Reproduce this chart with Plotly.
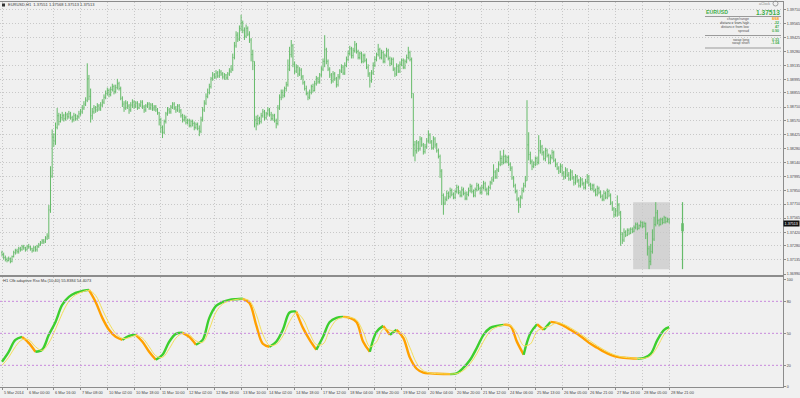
import plotly.graph_objects as go

# ---------------- data ----------------
symbol_title = "EURUSD,H1  1.37551 1.37568 1.37513 1.37513"
indicator_title = "H1 Cfb adaptive Rsx Ma (10,40) 55.8384 54.4073"

open0 = 1.3721
close = [
1.3719,1.3716,1.3714,1.3713,1.3715,1.3712,1.3717,1.3721,1.3723,1.3722,
1.3725,1.3724,1.3727,1.3726,1.3724,1.3727,1.3727,1.3725,1.3723,1.3726,
1.3724,1.3727,1.3729,1.3731,1.3733,1.3732,1.3736,1.3738,1.3765,1.3800,
1.3840,1.3836,1.3850,1.3862,1.3856,1.3860,1.3862,1.3859,1.3863,1.3861,
1.3864,1.3860,1.3858,1.3862,1.3859,1.3861,1.3864,1.3866,1.3870,1.3874,
1.3878,1.3900,1.3882,1.3862,1.3866,1.3870,1.3868,1.3872,1.3869,1.3873,
1.3876,1.3881,1.3885,1.3888,1.3884,1.3889,1.3892,1.3887,1.3891,1.3895,
1.3890,1.3880,1.3874,1.3870,1.3875,1.3872,1.3868,1.3873,1.3876,1.3872,
1.3875,1.3870,1.3873,1.3876,1.3871,1.3868,1.3872,1.3874,1.3870,1.3873,
1.3869,1.3871,1.3868,1.3865,1.3858,1.3850,1.3845,1.3856,1.3864,1.3868,
1.3866,1.3871,1.3874,1.3870,1.3868,1.3872,1.3867,1.3862,1.3858,1.3860,
1.3855,1.3857,1.3852,1.3856,1.3854,1.3850,1.3853,1.3849,1.3846,1.3858,
1.3868,1.3875,1.3882,1.3886,1.3892,1.3900,1.3904,1.3902,1.3906,1.3903,
1.3907,1.3905,1.3902,1.3904,1.3901,1.3905,1.3908,1.3910,1.3922,1.3934,
1.3945,1.3941,1.3952,1.3958,1.3950,1.3944,1.3952,1.3946,1.3940,1.3925,
1.3918,1.3858,1.3854,1.3859,1.3856,1.3862,1.3866,1.3860,1.3864,1.3868,
1.3863,1.3859,1.3862,1.3857,1.3854,1.3870,1.3881,1.3886,1.3883,1.3890,
1.3894,1.3910,1.3925,1.3934,1.3915,1.3908,1.3912,1.3905,1.3909,1.3902,
1.3896,1.3890,1.3885,1.3881,1.3886,1.3892,1.3888,1.3895,1.3900,1.3897,
1.3904,1.3910,1.3918,1.3930,1.3918,1.3910,1.3904,1.3898,1.3905,1.3900,
1.3894,1.3902,1.3908,1.3912,1.3906,1.3914,1.3920,1.3926,1.3931,1.3924,
1.3929,1.3935,1.3928,1.3922,1.3926,1.3918,1.3924,1.3919,1.3912,1.3905,
1.3898,1.3906,1.3914,1.3920,1.3925,1.3930,1.3922,1.3927,1.3918,1.3924,
1.3929,1.3921,1.3916,1.3920,1.3910,1.3905,1.3913,1.3908,1.3915,1.3919,
1.3912,1.3918,1.3922,1.3927,1.3920,1.3885,1.3832,1.3826,1.3834,1.3828,
1.3838,1.3832,1.3825,1.3830,1.3836,1.3842,1.3835,1.3829,1.3838,1.3832,
1.3826,1.3820,1.3805,1.3780,1.3772,1.3776,1.3782,1.3779,1.3785,1.3781,
1.3778,1.3784,1.3788,1.3783,1.3780,1.3786,1.3782,1.3777,1.3781,1.3785,
1.3789,1.3784,1.3780,1.3786,1.3790,1.3787,1.3783,1.3788,1.3792,1.3786,
1.3782,1.3788,1.3793,1.3796,1.3804,1.3799,1.3806,1.3812,1.3818,1.3814,
1.3820,1.3815,1.3819,1.3812,1.3808,1.3798,1.3790,1.3784,1.3776,1.3770,
1.3778,1.3785,1.3790,1.3795,1.3832,1.3822,1.3815,1.3810,1.3812,1.3818,
1.3814,1.3826,1.3830,1.3824,1.3818,1.3826,1.3821,1.3814,1.3819,1.3824,
1.3816,1.3812,1.3808,1.3805,1.3810,1.3803,1.3799,1.3806,1.3801,1.3797,
1.3804,1.3798,1.3793,1.3799,1.3795,1.3790,1.3796,1.3792,1.3788,1.3794,
1.3799,1.3791,1.3787,1.3790,1.3785,1.3781,1.3787,1.3783,1.3779,1.3776,
1.3782,1.3778,1.3784,1.3780,1.3772,1.3766,1.3760,1.3764,1.3770,1.3762,
1.3740,1.3734,1.3742,1.3739,1.3744,1.3741,1.3745,1.3743,1.3747,1.3750,
1.3746,1.3749,1.3752,1.3748,1.3751,1.3740,1.3725,1.3712,1.3722,1.3735,
1.3750,1.3762,1.3754,1.3750,1.3755,1.3752,1.3757,1.3753,1.37551,1.37513]

high = [
1.3723,1.3721,1.3718,1.3716,1.3717,1.3716,1.3718,1.3723,1.3725,1.3725,
1.3727,1.3727,1.3729,1.3729,1.3727,1.3729,1.3730,1.3728,1.3726,1.3728,
1.3728,1.3729,1.3731,1.3733,1.3735,1.3735,1.3738,1.3741,1.3770,1.3810,
1.3848,1.3844,1.3855,1.3870,1.3865,1.3864,1.3866,1.3864,1.3866,1.3865,
1.3867,1.3866,1.3862,1.3865,1.3864,1.3863,1.3867,1.3869,1.3873,1.3877,
1.3881,1.3916,1.3904,1.3890,1.3870,1.3873,1.3872,1.3875,1.3874,1.3876,
1.3879,1.3884,1.3888,1.3891,1.3890,1.3892,1.3895,1.3894,1.3894,1.3900,
1.3897,1.3892,1.3882,1.3877,1.3878,1.3877,1.3874,1.3876,1.3879,1.3878,
1.3877,1.3877,1.3875,1.3878,1.3878,1.3873,1.3874,1.3876,1.3876,1.3875,
1.3875,1.3873,1.3873,1.3870,1.3866,1.3860,1.3852,1.3858,1.3866,1.3871,
1.3870,1.3873,1.3876,1.3876,1.3872,1.3874,1.3874,1.3869,1.3864,1.3863,
1.3862,1.3859,1.3859,1.3858,1.3858,1.3856,1.3855,1.3855,1.3852,1.3861,
1.3871,1.3878,1.3885,1.3890,1.3895,1.3902,1.3907,1.3906,1.3909,1.3908,
1.3910,1.3909,1.3907,1.3906,1.3905,1.3907,1.3911,1.3914,1.3926,1.3938,
1.3949,1.3948,1.3955,1.3966,1.3960,1.3953,1.3956,1.3954,1.3949,1.3942,
1.3930,1.3918,1.3862,1.3863,1.3861,1.3865,1.3869,1.3868,1.3866,1.3871,
1.3870,1.3866,1.3864,1.3864,1.3859,1.3873,1.3884,1.3889,1.3889,1.3892,
1.3897,1.3920,1.3933,1.3940,1.3936,1.3918,1.3915,1.3914,1.3912,1.3911,
1.3904,1.3898,1.3893,1.3887,1.3889,1.3894,1.3895,1.3898,1.3903,1.3902,
1.3906,1.3913,1.3921,1.3945,1.3932,1.3920,1.3912,1.3906,1.3908,1.3907,
1.3902,1.3905,1.3910,1.3915,1.3914,1.3917,1.3923,1.3929,1.3934,1.3933,
1.3932,1.3939,1.3937,1.3930,1.3928,1.3928,1.3926,1.3926,1.3921,1.3915,
1.3907,1.3909,1.3917,1.3923,1.3927,1.3936,1.3932,1.3930,1.3929,1.3926,
1.3932,1.3931,1.3923,1.3922,1.3922,1.3912,1.3916,1.3915,1.3918,1.3921,
1.3921,1.3920,1.3925,1.3933,1.3929,1.3922,1.3885,1.3836,1.3837,1.3836,
1.3841,1.3840,1.3834,1.3833,1.3839,1.3847,1.3844,1.3837,1.3841,1.3840,
1.3834,1.3828,1.3822,1.3807,1.3782,1.3779,1.3785,1.3784,1.3788,1.3787,
1.3783,1.3786,1.3791,1.3790,1.3785,1.3789,1.3788,1.3784,1.3784,1.3788,
1.3792,1.3791,1.3786,1.3788,1.3793,1.3792,1.3789,1.3791,1.3795,1.3794,
1.3788,1.3790,1.3795,1.3799,1.3812,1.3806,1.3808,1.3815,1.3826,1.3821,
1.3827,1.3822,1.3821,1.3821,1.3814,1.3810,1.3800,1.3792,1.3786,1.3778,
1.3780,1.3788,1.3793,1.3800,1.3878,1.3845,1.3825,1.3817,1.3815,1.3820,
1.3820,1.3842,1.3837,1.3832,1.3826,1.3829,1.3828,1.3823,1.3822,1.3827,
1.3826,1.3818,1.3814,1.3810,1.3813,1.3812,1.3805,1.3809,1.3808,1.3804,
1.3807,1.3806,1.3800,1.3802,1.3801,1.3797,1.3799,1.3798,1.3794,1.3797,
1.3802,1.3801,1.3793,1.3792,1.3792,1.3787,1.3790,1.3789,1.3785,1.3781,
1.3785,1.3784,1.3787,1.3786,1.3782,1.3774,1.3768,1.3767,1.3780,1.3772,
1.3764,1.3742,1.3746,1.3744,1.3746,1.3746,1.3747,1.3747,1.3749,1.3752,
1.3752,1.3750,1.3754,1.3753,1.3753,1.3752,1.3742,1.3728,1.3730,1.3745,
1.3758,1.3773,1.3765,1.3756,1.3757,1.3757,1.3759,1.3758,1.3757,1.37568]

low = [
1.3717,1.3714,1.3712,1.3711,1.3712,1.3710,1.3711,1.3716,1.3719,1.3720,
1.3720,1.3722,1.3723,1.3724,1.3722,1.3723,1.3725,1.3723,1.3721,1.3722,
1.3722,1.3722,1.3726,1.3728,1.3730,1.3730,1.3731,1.3734,1.3735,1.3762,
1.3798,1.3830,1.3832,1.3848,1.3852,1.3855,1.3857,1.3856,1.3857,1.3858,
1.3859,1.3858,1.3855,1.3856,1.3857,1.3857,1.3859,1.3862,1.3864,1.3868,
1.3872,1.3876,1.3878,1.3855,1.3858,1.3864,1.3865,1.3866,1.3867,1.3867,
1.3871,1.3874,1.3879,1.3883,1.3881,1.3882,1.3887,1.3884,1.3885,1.3889,
1.3888,1.3878,1.3871,1.3866,1.3868,1.3869,1.3864,1.3866,1.3870,1.3869,
1.3870,1.3868,1.3869,1.3871,1.3869,1.3865,1.3866,1.3870,1.3868,1.3868,
1.3867,1.3867,1.3866,1.3863,1.3852,1.3844,1.3839,1.3843,1.3854,1.3862,
1.3864,1.3864,1.3869,1.3868,1.3865,1.3866,1.3865,1.3860,1.3855,1.3856,
1.3853,1.3853,1.3850,1.3850,1.3851,1.3847,1.3848,1.3847,1.3841,1.3844,
1.3856,1.3866,1.3873,1.3880,1.3884,1.3890,1.3898,1.3900,1.3900,1.3901,
1.3901,1.3903,1.3900,1.3899,1.3899,1.3899,1.3903,1.3906,1.3908,1.3920,
1.3932,1.3938,1.3939,1.3949,1.3947,1.3940,1.3942,1.3944,1.3937,1.3918,
1.3909,1.3850,1.3847,1.3852,1.3853,1.3854,1.3860,1.3857,1.3858,1.3862,
1.3861,1.3857,1.3857,1.3855,1.3849,1.3852,1.3868,1.3878,1.3880,1.3881,
1.3887,1.3892,1.3908,1.3922,1.3912,1.3905,1.3906,1.3902,1.3903,1.3899,
1.3894,1.3888,1.3883,1.3878,1.3879,1.3884,1.3886,1.3887,1.3893,1.3895,
1.3895,1.3902,1.3908,1.3912,1.3915,1.3908,1.3901,1.3895,1.3896,1.3898,
1.3891,1.3892,1.3900,1.3906,1.3904,1.3904,1.3912,1.3918,1.3924,1.3921,
1.3921,1.3927,1.3926,1.3920,1.3920,1.3916,1.3916,1.3917,1.3910,1.3902,
1.3891,1.3896,1.3904,1.3912,1.3918,1.3923,1.3920,1.3920,1.3916,1.3916,
1.3922,1.3919,1.3913,1.3914,1.3908,1.3902,1.3903,1.3906,1.3906,1.3913,
1.3910,1.3910,1.3916,1.3920,1.3918,1.3880,1.3820,1.3815,1.3823,1.3825,
1.3826,1.3830,1.3822,1.3823,1.3828,1.3834,1.3833,1.3827,1.3827,1.3829,
1.3824,1.3818,1.3798,1.3770,1.3760,1.3770,1.3774,1.3776,1.3777,1.3779,
1.3776,1.3776,1.3782,1.3781,1.3778,1.3778,1.3780,1.3775,1.3775,1.3779,
1.3783,1.3782,1.3778,1.3778,1.3784,1.3785,1.3781,1.3781,1.3786,1.3784,
1.3780,1.3780,1.3786,1.3791,1.3794,1.3797,1.3797,1.3804,1.3810,1.3811,
1.3812,1.3813,1.3813,1.3810,1.3805,1.3796,1.3788,1.3782,1.3774,1.3762,
1.3767,1.3776,1.3783,1.3788,1.3795,1.3816,1.3812,1.3806,1.3808,1.3810,
1.3811,1.3812,1.3823,1.3821,1.3816,1.3815,1.3819,1.3812,1.3812,1.3817,
1.3814,1.3809,1.3806,1.3802,1.3803,1.3800,1.3796,1.3797,1.3799,1.3795,
1.3795,1.3796,1.3790,1.3791,1.3793,1.3788,1.3788,1.3790,1.3786,1.3786,
1.3792,1.3789,1.3785,1.3785,1.3783,1.3779,1.3779,1.3781,1.3777,1.3774,
1.3774,1.3776,1.3776,1.3778,1.3770,1.3764,1.3757,1.3758,1.3758,1.3759,
1.3728,1.3730,1.3732,1.3737,1.3738,1.3739,1.3740,1.3741,1.3742,1.3745,
1.3744,1.3745,1.3747,1.3746,1.3747,1.3735,1.3718,1.3704,1.3708,1.3720,
1.3733,1.3748,1.3750,1.3748,1.3749,1.3750,1.3751,1.3751,1.3752,1.37513]

bar_idx = list(range(len(close)))
opens = [open0] + close[:-1]

# today's session (open, high, low, close) and its bar span
day_ohlc = [1.3743, 1.3773, 1.3704, 1.37513]
day_first_bar, day_last_bar = 378, 399
day_marker_bar = 407
last_price = 1.37513

time_label_idx = [0, 15, 31, 47, 63, 79, 95, 111, 127, 143, 159, 175, 191,
                  207, 223, 239, 255, 271, 287, 303, 319, 335, 351, 367, 383, 399]
time_labels = ["5 Mar 2014", "6 Mar 00:00", "6 Mar 16:00", "7 Mar 08:00", "10 Mar 02:00",
               "10 Mar 18:00", "11 Mar 10:00", "12 Mar 02:00", "12 Mar 18:00", "13 Mar 10:00",
               "14 Mar 02:00", "14 Mar 18:00", "17 Mar 12:00", "18 Mar 04:00", "18 Mar 20:00",
               "19 Mar 12:00", "20 Mar 04:00", "20 Mar 20:00", "21 Mar 12:00", "24 Mar 06:00",
               "25 Mar 13:00", "26 Mar 05:00", "26 Mar 21:00", "27 Mar 13:00", "28 Mar 05:00",
               "28 Mar 21:00"]

price_ticks = [1.36990, 1.37135, 1.37280, 1.37420, 1.37565, 1.37710, 1.37850, 1.37995,
               1.38140, 1.38280, 1.38425, 1.38570, 1.38710, 1.38855, 1.38995, 1.39135,
               1.39280, 1.39425, 1.39565, 1.39710]
osc_ticks = [0, 20, 50, 80, 100]
osc_levels = [20, 50, 80]

rsx_idx = list(range(0, 400, 4)) + [399]
rsx = [
23.4,32.7,43.9,46.7,41.1,32.7,34.6,48.6,60.7,76.6,
84.1,87.9,89.7,90.7,79.4,64.5,53.3,46.7,43.9,47.7,
48.6,42.1,32.7,25.2,29.9,42.1,49.5,50.5,46.7,39.3,
43.9,64.5,75.7,79.4,81.3,82.0,82.4,78.5,57.9,40.2,
37.4,42.1,53.3,69.5,70.4,55.1,43.9,34.6,46.7,60.7,
64.5,65.4,64.5,60.7,42.1,32.7,51.4,57.0,48.6,53.3,
45.8,27.1,16.8,13.1,12.5,12.1,11.9,11.8,12.6,17.8,
25.2,36.4,48.6,55.1,57.0,57.9,57.0,42.0,30.0,50.0,
58.5,53.3,60.7,59.8,57.0,53.3,49.5,44.9,40.2,36.4,
32.7,29.9,28.0,27.1,26.6,26.3,26.9,30.8,43.9,53.3,
55.8]
signal = [
20.0,27.5,37.5,44.0,44.0,37.5,34.0,41.0,54.0,68.5,
80.0,86.0,88.8,90.2,85.5,72.5,59.5,50.0,45.3,45.8,
48.0,45.5,37.5,29.0,27.5,35.5,45.5,50.0,48.6,43.0,
41.5,54.0,70.0,77.5,80.3,81.7,82.2,80.5,68.0,49.0,
38.8,39.8,47.5,61.0,69.0,63.5,50.0,39.5,40.0,53.5,
62.5,65.0,65.0,62.6,51.5,37.5,42.0,54.0,53.0,51.0,
49.5,36.5,22.0,15.0,12.8,12.2,12.0,11.9,12.3,15.2,
21.5,31.0,42.5,52.0,56.0,57.5,57.5,50.0,38.5,40.0,
52.0,55.0,57.0,60.0,58.4,55.2,51.4,47.2,42.6,38.3,
34.6,31.3,29.0,27.6,27.0,26.5,26.6,28.9,37.5,49.0,
54.4]

info_rows_top = [("change/range", "8/68"), ("distance from high", "22"),
                 ("distance from low", "47"), ("spread", "0.90")]
info_rows_bottom = [("swap long", "0.33"), ("swap short", "-1.04")]

# ---------------- styling helpers ----------------
BG = "#f0f0f0"
GRID = "#c8c8c8"
BORDER = "#8c8c8c"
BAR = "#66bb6a"
UP = "#3ccf2e"
DOWN = "#ffa000"
SIG = "#f3df5c"
TXT = "#3a3a3a"
FONT = "Liberation Sans, Arial, sans-serif"

PW, PH = 783.0, 387.0  # plot area in px


def px(x):
    return x / PW


def py(y):
    return (PH - y) / PH


fig = go.Figure()

fig.add_trace(go.Ohlc(
    x=bar_idx, open=opens, high=high, low=low, close=close,
    increasing=dict(line=dict(color=BAR, width=1)),
    decreasing=dict(line=dict(color=BAR, width=1)),
    tickwidth=0.35, xaxis="x", yaxis="y", hoverinfo="skip"))

# today's range marker (daily candle drawn at the right)
fig.add_trace(go.Scatter(x=[day_marker_bar, day_marker_bar], y=[day_ohlc[2], day_ohlc[1]],
                         mode="lines", line=dict(color=BAR, width=1.2),
                         xaxis="x", yaxis="y", hoverinfo="skip"))
fig.add_trace(go.Scatter(x=[day_marker_bar, day_marker_bar], y=[day_ohlc[0], day_ohlc[3]],
                         mode="lines", line=dict(color=BAR, width=2.6),
                         xaxis="x", yaxis="y", hoverinfo="skip"))

# oscillator: coloured by slope
runs = []
start = 0
cur = None
for j in range(len(rsx) - 1):
    d = rsx[j + 1] >= rsx[j]
    if cur is None:
        cur = d
    elif d != cur:
        runs.append((start, j, cur))
        start = j
        cur = d
runs.append((start, len(rsx) - 1, cur))
for a, b, d in runs:
    fig.add_trace(go.Scatter(
        x=rsx_idx[a:b + 1], y=rsx[a:b + 1], mode="lines",
        line=dict(color=UP if d else DOWN, width=2.4, shape="spline", smoothing=1.0),
        xaxis="x2", yaxis="y2", hoverinfo="skip"))
fig.add_trace(go.Scatter(x=rsx_idx, y=signal, mode="lines",
                         line=dict(color=SIG, width=1, shape="spline", smoothing=1.0),
                         xaxis="x2", yaxis="y2", hoverinfo="skip"))

xr = [-1.196, 467.1]
dash = "1px,2px"
common_x = dict(range=xr, tickvals=time_label_idx, showgrid=True, gridcolor=GRID,
                griddash=dash, gridwidth=1, zeroline=False, showline=True, mirror=True,
                linecolor=BORDER, linewidth=1, fixedrange=True, automargin=False)

fig.update_layout(
    width=800, height=398,
    margin=dict(l=0, r=17, t=0, b=11, pad=0),
    paper_bgcolor=BG, plot_bgcolor=BG, showlegend=False,
    font=dict(family=FONT, size=4, color=TXT),
    xaxis=dict(domain=[0, 1], anchor="y", showticklabels=False, ticks="",
               rangeslider=dict(visible=False), **common_x),
    xaxis2=dict(domain=[0, 1], anchor="y2", matches="x", showticklabels=False,
                ticks="outside", ticklen=2, tickcolor=BORDER, **common_x),
    yaxis=dict(domain=[py(275), py(2)], anchor="x", side="right",
               range=[1.369797, 1.397915], tickvals=price_ticks, tickformat=".5f",
               tickfont=dict(size=3.7, color="#444", family=FONT),
               ticks="outside", ticklen=2, tickcolor=BORDER,
               showgrid=True, gridcolor=GRID, griddash=dash, gridwidth=1,
               zeroline=False, showline=True, mirror=True, linecolor=BORDER,
               fixedrange=True, automargin=False),
    yaxis2=dict(domain=[0, py(277)], anchor="x2", side="right",
                range=[-0.3, 102.8], tickvals=osc_ticks,
                tickfont=dict(size=3.7, color="#444", family=FONT),
                ticks="outside", ticklen=2, tickcolor=BORDER,
                showgrid=False, zeroline=False, showline=True, mirror=True,
                linecolor=BORDER, fixedrange=True, automargin=False),
)

shapes = []
# today's session box
shapes.append(dict(type="rect", xref="x", yref="y", x0=day_first_bar - 0.5, x1=day_last_bar + 0.5,
                   y0=day_ohlc[2], y1=day_ohlc[1], fillcolor="#d3d3d3",
                   line=dict(width=0), layer="below"))
# oscillator levels
for lv in osc_levels:
    shapes.append(dict(type="line", xref="paper", yref="y2", x0=0, x1=1, y0=lv, y1=lv,
                       line=dict(color="#c889dd", width=1, dash="2px,2px")))
# info panel separators
for yy in (16.5, 35.5, 48.0):
    shapes.append(dict(type="line", xref="paper", yref="paper", x0=px(705), x1=px(781),
                       y0=py(yy), y1=py(yy), line=dict(color="#9a9a9a", width=1)))
# clock icon
shapes.append(dict(type="circle", xref="paper", yref="paper", x0=px(773), x1=px(778),
                   y0=py(6), y1=py(1), line=dict(color="#8a8a8a", width=0.8)))
# title icon
shapes.append(dict(type="rect", xref="paper", yref="paper", x0=px(2), x1=px(5),
                   y0=py(6.5), y1=py(3.5), fillcolor="#333", line=dict(width=0)))
fig.update_layout(shapes=shapes)

ann = []
for idx, lab in zip(time_label_idx, time_labels):
    ann.append(dict(x=idx, xref="x2", y=py(392.5), yref="paper", text=lab,
                    showarrow=False, xanchor="left", yanchor="middle", xshift=0.5,
                    borderpad=0, font=dict(size=3.9, color="#444", family=FONT)))
ann.append(dict(x=px(7), xref="paper", y=py(5), yref="paper", text=symbol_title,
                showarrow=False, xanchor="left", yanchor="middle", borderpad=0,
                font=dict(size=4, color=TXT, family=FONT)))
ann.append(dict(x=px(2), xref="paper", y=py(280.5), yref="paper", text=indicator_title,
                showarrow=False, xanchor="left", yanchor="middle", borderpad=0,
                font=dict(size=4, color=TXT, family=FONT)))
ann.append(dict(x=1, xref="paper", y=last_price, yref="y", text=f"{last_price:.5f}",
                showarrow=False, xanchor="left", yanchor="middle", bgcolor="#111",
                borderpad=0.6, font=dict(size=3.7, color="white", family=FONT)))
# info panel
ann.append(dict(x=px(705), xref="paper", y=py(12.3), yref="paper", text="<b>EURUSD</b>",
                showarrow=False, xanchor="left", yanchor="middle", borderpad=0,
                font=dict(size=5.2, color="#3fae4a", family=FONT)))
ann.append(dict(x=px(781), xref="paper", y=py(12.3), yref="paper",
                text=f"<b>{last_price:.5f}</b>", showarrow=False, xanchor="right",
                yanchor="middle", borderpad=0,
                font=dict(size=6.6, color="#3fae4a", family=FONT)))
ann.append(dict(x=px(771), xref="paper", y=py(3.5), yref="paper", text="aClock",
                showarrow=False, xanchor="right", yanchor="middle", borderpad=0,
                font=dict(size=3.6, color="#888", family=FONT)))
rows = [(r, 19.3 + 4.0 * k) for k, r in enumerate(info_rows_top)] + \
       [(r, 39.5 + 4.0 * k) for k, r in enumerate(info_rows_bottom)]
for (lab, val), yy in rows:
    ann.append(dict(x=px(750), xref="paper", y=py(yy), yref="paper", text=lab,
                    showarrow=False, xanchor="right", yanchor="middle", borderpad=0,
                    font=dict(size=3.6, color="#555", family=FONT)))
    ann.append(dict(x=px(780), xref="paper", y=py(yy), yref="paper", text=f"<b>{val}</b>",
                    showarrow=False, xanchor="right", yanchor="middle", borderpad=0,
                    font=dict(size=3.6, color="#ff9a00" if "/" in val else "#3fae4a",
                              family=FONT)))
fig.update_layout(annotations=ann)

fig.write_html("out.html")
